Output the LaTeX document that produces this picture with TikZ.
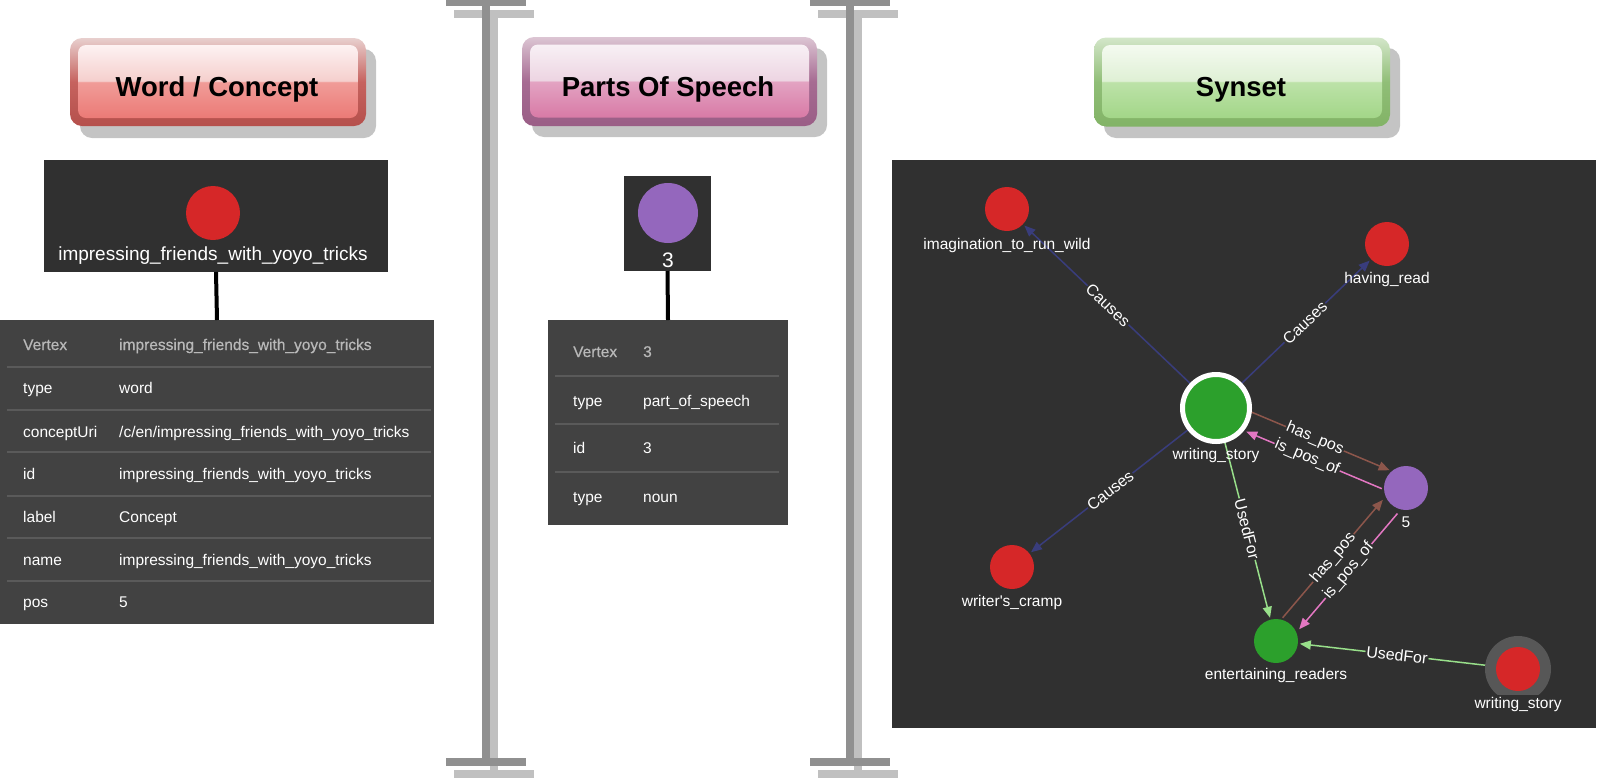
\documentclass[tikz,border=0pt]{standalone}
\usepackage{fontspec}
\usetikzlibrary{arrows.meta,calc}
\newfontfamily\uifont{Liberation Sans}
\newfontfamily\uimed{Liberation Sans}[FakeBold=0.6]
\newcommand\pxs[1]{\fontsize{#1}{#1}\selectfont}

\definecolor{graphbg}{HTML}{303030}
\definecolor{tablebg}{HTML}{424242}
\definecolor{sepcol}{HTML}{5A5A5A}
\definecolor{nred}{HTML}{D62728}
\definecolor{ngreen}{HTML}{2CA02C}
\definecolor{npurple}{HTML}{9467BD}
\definecolor{ecause}{HTML}{393D7C}
\definecolor{ehas}{HTML}{8C564B}
\definecolor{eispos}{HTML}{E377C2}
\definecolor{eused}{HTML}{98DF8A}
\definecolor{halo}{HTML}{575757}
\definecolor{beamdk}{HTML}{909090}
\definecolor{beamlt}{HTML}{C0C0C0}
\definecolor{shadowc}{HTML}{C4C4C4}
\definecolor{vgray}{HTML}{B8B8B8}
% button colours
\definecolor{rtop}{HTML}{FDF2F2}\definecolor{rml}{HTML}{F5CFCD}\definecolor{rmd}{HTML}{F09C98}\definecolor{rbot}{HTML}{EC7A76}
\definecolor{rotop}{HTML}{E8CFCE}\definecolor{romid}{HTML}{C6625E}\definecolor{robot}{HTML}{B5504C}
\definecolor{ptop}{HTML}{F8F0F5}\definecolor{pml}{HTML}{EDD5E2}\definecolor{pmd}{HTML}{E3A3C2}\definecolor{pbot}{HTML}{D87AA6}
\definecolor{potop}{HTML}{DCC5D3}\definecolor{pomid}{HTML}{A66B92}\definecolor{pobot}{HTML}{9A5E86}
\definecolor{gtop}{HTML}{F4FAF0}\definecolor{gml}{HTML}{DFF0D5}\definecolor{gmd}{HTML}{BCE2A8}\definecolor{gbot}{HTML}{A3D688}
\definecolor{gotop}{HTML}{D3E6C9}\definecolor{gomid}{HTML}{90BE77}\definecolor{gobot}{HTML}{82B366}

\pgfdeclareverticalshading{redgloss}{100bp}{color(0bp)=(rbot); color(25bp)=(rbot); color(49.5bp)=(rmd); color(50.5bp)=(rml); color(75bp)=(rtop); color(100bp)=(rtop)}
\pgfdeclareverticalshading{purgloss}{100bp}{color(0bp)=(pbot); color(25bp)=(pbot); color(49.5bp)=(pmd); color(50.5bp)=(pml); color(75bp)=(ptop); color(100bp)=(ptop)}
\pgfdeclareverticalshading{grngloss}{100bp}{color(0bp)=(gbot); color(25bp)=(gbot); color(49.5bp)=(gmd); color(50.5bp)=(gml); color(75bp)=(gtop); color(100bp)=(gtop)}

\pgfdeclarelayer{bglayer}
\pgfdeclarelayer{edgelayer}
\pgfsetlayers{bglayer,edgelayer,main}

\tikzset{
  panel/.style={rectangle, inner sep=0pt, outer sep=0pt, draw=none, anchor=north west},
  btnouter/.style={rectangle, rounded corners=12pt, inner sep=0pt, outer sep=0pt, draw=none},
  btninner/.style={rectangle, rounded corners=8pt, inner sep=0pt, outer sep=0pt, draw=none},
  btntext/.style={font=\uifont\bfseries\pxs{27.5}, text=black, anchor=base, inner sep=0pt},
  beamd/.style={fill=beamdk},
  beaml/.style={fill=beamlt},
  keytxt/.style={font=\uifont\pxs{15.5}, text=white, anchor=base west, inner sep=0pt},
  vtxtxt/.style={font=\uimed\pxs{15.5}, text=vgray, anchor=base west, inner sep=0pt},
  sepline/.style={draw=sepcol, line width=1.5pt},
  tether/.style={draw=black, line width=4pt},
  gnode/.style={circle, inner sep=0pt, outer sep=2pt, minimum size=44pt, draw=none},
  glabel/.style={font=\uifont\pxs{15.5}, text=white, anchor=base, inner sep=1.5pt},
  edge/.style={line width=1.5pt, -{Triangle[length=11pt,width=9pt]}},
  causes/.style={edge, draw=ecause, fill=ecause},
  haspos/.style={edge, draw=ehas, fill=ehas},
  ispos/.style={edge, draw=eispos, fill=eispos},
  usedfor/.style={edge, draw=eused, fill=eused},
  elabel/.style={font=\uifont\pxs{16}, text=white, fill=graphbg, inner sep=1pt, sloped, midway},
}

\begin{document}
\begin{tikzpicture}[x=1pt,y=-1pt]
\useasboundingbox (0,0) rectangle (1604,780);

% ---------- separator beams ----------
\fill[beaml] (454,10) rectangle (534,18);
\fill[beaml] (490,18) rectangle (498,770);
\fill[beaml] (454,770) rectangle (534,778);
\fill[beamd] (446,0) rectangle (526,6);
\fill[beamd] (482,0) rectangle (490,766);
\fill[beamd] (446,758) rectangle (526,766);

\fill[beaml] (818,10) rectangle (898,18);
\fill[beaml] (854,18) rectangle (862,770);
\fill[beaml] (818,770) rectangle (898,778);
\fill[beamd] (810,0) rectangle (890,6);
\fill[beamd] (846,0) rectangle (854,766);
\fill[beamd] (810,758) rectangle (890,766);

% ---------- buttons ----------
\fill[shadowc, rounded corners=12pt] (80,49) rectangle (376,138);
\node[btnouter, top color=rotop, bottom color=robot, middle color=romid, minimum width=296pt, minimum height=88pt] (wcbtn) at (218,82) {};
\node[btninner, shading=redgloss, minimum width=280pt, minimum height=73pt] (wcin) at (218,81.5) {};
\node[btntext] (wctitle) at (217,96) {Word / Concept};

\fill[shadowc, rounded corners=12pt] (532,48) rectangle (827,137);
\node[btnouter, top color=potop, bottom color=pobot, middle color=pomid, minimum width=295pt, minimum height=89pt] (posbtn) at (669.5,81.5) {};
\node[btninner, shading=purgloss, minimum width=279pt, minimum height=73pt] (posin) at (669.5,81) {};
\node[btntext] (postitle) at (668,96) {Parts Of Speech};

\fill[shadowc, rounded corners=12pt] (1104,48) rectangle (1400,138);
\node[btnouter, top color=gotop, bottom color=gobot, middle color=gomid, minimum width=296pt, minimum height=89pt] (synbtn) at (1242,82) {};
\node[btninner, shading=grngloss, minimum width=280pt, minimum height=73pt] (synin) at (1242,81.5) {};
\node[btntext] (syntitle) at (1241,96) {Synset};

% ---------- Word / Concept panel ----------
\node[panel, fill=graphbg, minimum width=344pt, minimum height=112pt] (wbox) at (44,160) {};
\node[gnode, fill=nred, minimum size=54pt] (wnode) at (213,213) {};
\node[glabel, font=\uifont\pxs{19}] (wlabel) at (213,260) {impressing\_friends\_with\_yoyo\_tricks};
\node[panel, fill=tablebg, minimum width=434pt, minimum height=304pt] (wtable) at (0,320) {};
\draw[tether] (wbox.south) -- (wtable.north);

\draw[sepline] (7,367) -- (431,367);
\draw[sepline] (7,410) -- (431,410);
\draw[sepline] (7,452) -- (431,452);
\draw[sepline] (7,496) -- (431,496);
\draw[sepline] (7,538) -- (431,538);
\draw[sepline] (7,581) -- (431,581);

\node[vtxtxt] (wk1) at (23,350) {Vertex};
\node[vtxtxt] (wv1) at (119,350) {impressing\_friends\_with\_yoyo\_tricks};
\node[keytxt] (wk2) at (23,393) {type};
\node[keytxt] (wv2) at (119,393) {word};
\node[keytxt] (wk3) at (23,437) {conceptUri};
\node[keytxt] (wv3) at (119,437) {/c/en/impressing\_friends\_with\_yoyo\_tricks};
\node[keytxt] (wk4) at (23,479) {id};
\node[keytxt] (wv4) at (119,479) {impressing\_friends\_with\_yoyo\_tricks};
\node[keytxt] (wk5) at (23,522) {label};
\node[keytxt] (wv5) at (119,522) {Concept};
\node[keytxt] (wk6) at (23,565) {name};
\node[keytxt] (wv6) at (119,565) {impressing\_friends\_with\_yoyo\_tricks};
\node[keytxt] (wk7) at (23,607) {pos};
\node[keytxt] (wv7) at (119,607) {5};

% ---------- Parts of speech panel ----------
\node[panel, fill=graphbg, minimum width=87pt, minimum height=95pt] (pbox) at (624,176) {};
\node[gnode, fill=npurple, minimum size=60pt] (pnode) at (668,213) {};
\node[glabel, font=\uifont\pxs{21}] (plabel) at (668,267) {3};
\node[panel, fill=tablebg, minimum width=240pt, minimum height=205pt] (ptable) at (548,320) {};
\draw[tether] (pbox.south) -- (ptable.north);

\draw[sepline] (555,376) -- (779,376);
\draw[sepline] (555,424) -- (779,424);
\draw[sepline] (555,472) -- (779,472);

\node[vtxtxt] (pk1) at (573,357) {Vertex};
\node[vtxtxt] (pv1) at (643,357) {3};
\node[keytxt] (pk2) at (573,406) {type};
\node[keytxt] (pv2) at (643,406) {part\_of\_speech};
\node[keytxt] (pk3) at (573,453) {id};
\node[keytxt] (pv3) at (643,453) {3};
\node[keytxt] (pk4) at (573,502) {type};
\node[keytxt] (pv4) at (643,502) {noun};

% ---------- Synset graph ----------
\begin{pgfonlayer}{bglayer}
\node[panel, fill=graphbg, minimum width=704pt, minimum height=568pt] (gbg) at (892,160) {};
\end{pgfonlayer}

\node[gnode, fill=nred] (imag) at (1007,209) {};
\node[glabel] (imagl) at (1007,249) {imagination\_to\_run\_wild};
\node[gnode, fill=nred] (hr) at (1387,244) {};
\node[glabel] (hrl) at (1387,283) {having\_read};
\node[circle, inner sep=0pt, outer sep=0pt, minimum size=67pt, fill=ngreen, draw=white, line width=5pt] (ws) at (1216,408) {};
\node[glabel] (wsl) at (1216,459) {writing\_story};
\node[gnode, fill=npurple] (p5) at (1406,488) {};
\node[glabel] (p5l) at (1406,527) {5};
\node[gnode, fill=nred] (wc) at (1012,567) {};
\node[glabel] (wcl) at (1012,606) {writer's\_cramp};
\node[gnode, fill=ngreen] (ent) at (1276,641) {};
\node[glabel] (entl) at (1276,679) {entertaining\_readers};
\node[circle, inner sep=0pt, minimum size=66pt, fill=halo] (ws2halo) at (1518,669) {};
\node[gnode, fill=nred] (ws2) at (1518,669) {};
\node[glabel, fill=graphbg] (ws2l) at (1518,708) {writing\_story};

\begin{pgfonlayer}{edgelayer}
\draw[causes] (ws) -- node[elabel]{Causes} (imag);
\draw[causes] (ws) -- node[elabel]{Causes} (hr);
\draw[causes] (ws) -- node[elabel]{Causes} (wc);
\draw[usedfor] (ws) -- node[elabel]{UsedFor} (ent);
\draw[usedfor] (ws2) -- node[elabel]{UsedFor} (ent);
\draw[haspos, shorten <=34pt, shorten >=22pt] ($(ws)!10pt!90:(p5)$) -- node[elabel]{has\_pos} ($(p5)!10pt!-90:(ws)$);
\draw[ispos, shorten <=22pt, shorten >=37pt] ($(p5)!10pt!90:(ws)$) -- node[elabel]{is\_pos\_of} ($(ws)!10pt!-90:(p5)$);
\draw[haspos, shorten <=22pt, shorten >=24pt] ($(ent)!10pt!90:(p5)$) -- node[elabel]{has\_pos} ($(p5)!10pt!-90:(ent)$);
\draw[ispos, shorten <=25pt, shorten >=24pt] ($(p5)!10pt!90:(ent)$) -- node[elabel]{is\_pos\_of} ($(ent)!10pt!-90:(p5)$);
\end{pgfonlayer}

\end{tikzpicture}
\end{document}
